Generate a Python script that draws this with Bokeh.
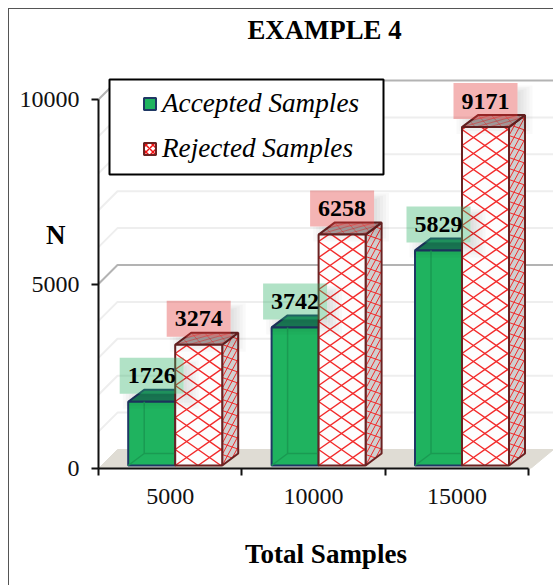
from bokeh.embed import file_html
from bokeh.resources import INLINE
from bokeh.plotting import figure
from bokeh.models import (ColumnDataSource, FixedTicker, Label, Legend,
                          LegendItem, Range1d)
from bokeh.core.properties import value

# Chart data
categories = ["5000", "10000", "15000"]
accepted = [1726, 3742, 5829]
rejected = [3274, 6258, 9171]
y_ticks = [0, 5000, 10000]
wall_steps = [1000, 2000, 3000, 4000, 5000, 6000, 7000, 8000, 9000, 10000]

SERIF = "Liberation Serif"
FRAME_L, FRAME_R, FRAME_T, FRAME_B = 98, 553, 0, 468
PX_X = 143.4          # pixels per category
PX_Y = 0.0369         # pixels per unit of N

def ux(px):
    return px / PX_X

def uy(px):
    return px / PX_Y

x_start = 0.5
x_range = Range1d(x_start, x_start + ux(FRAME_R - FRAME_L))
y_range = Range1d(0, uy(FRAME_B - FRAME_T))

# The outer chart border is open on the right and at the bottom
border_css = """
:host::after {
  content: ""; position: absolute; left: 8px; top: 8px; right: 0; bottom: 0;
  border-left: 1.5px solid #555555; border-top: 1.5px solid #555555;
  pointer-events: none;
}
"""

p = figure(width=553, height=585, x_range=x_range, y_range=y_range,
           output_backend="svg", toolbar_location=None,
           min_border_left=FRAME_L, min_border_right=0, min_border_bottom=585 - FRAME_B,
           min_border_top=0, tools="", title=None)
p.stylesheets = [border_css]
p.grid.visible = False
p.outline_line_color = None
p.background_fill_color = "white"
p.border_fill_color = "white"

# Axes
xa = p.xaxis[0]
xa.ticker = FixedTicker(ticks=[1, 2, 3], minor_ticks=[0.5, 1.5, 2.5, 3.5])
xa.major_label_overrides = {i + 1: c for i, c in enumerate(categories)}
xa.major_tick_line_color = None
xa.major_tick_in = 0
xa.major_tick_out = 0
xa.minor_tick_in = 0
xa.minor_tick_out = 7
xa.minor_tick_line_color = "#111111"
xa.minor_tick_line_width = 2
xa.axis_line_color = "#111111"
xa.axis_line_width = 2
xa.bounds = (0.5, 3.5)
xa.major_label_text_font = SERIF
xa.major_label_text_font_size = "24px"
xa.major_label_text_color = "#111111"
xa.major_label_standoff = 13
xa.axis_label = "Total Samples"
xa.axis_label_text_font = SERIF
xa.axis_label_text_font_size = "27px"
xa.axis_label_text_font_style = "bold"
xa.axis_label_text_color = "#000000"
xa.axis_label_standoff = 32

ya = p.yaxis[0]
ya.ticker = FixedTicker(ticks=y_ticks)
ya.minor_tick_line_color = None
ya.major_tick_in = 0
ya.major_tick_out = 7
ya.major_tick_line_color = "#111111"
ya.major_tick_line_width = 2
ya.axis_line_color = "#111111"
ya.axis_line_width = 2
ya.bounds = (0, 10000)
ya.major_label_text_font = SERIF
ya.major_label_text_font_size = "24px"
ya.major_label_text_color = "#111111"
ya.major_label_standoff = 12
ya.formatter.use_scientific = False
ya.axis_label = "N"
ya.axis_label_orientation = "horizontal"
ya.axis_label_text_font = SERIF
ya.axis_label_text_font_size = "27px"
ya.axis_label_text_font_style = "bold"
ya.axis_label_text_color = "#000000"
ya.axis_label_standoff = -49

# Projection depths of the pseudo 3D scene
WALL_DX, WALL_DY = ux(19), uy(19)
BAR_DX, BAR_DY = ux(16), uy(12)
BAR_W = ux(47)
BAR_SHIFT = ux(5)
BASE = uy(3)

# Floor and the gridlines on the back and side walls
x_end = x_range.end
p.patch([0.5, 3.5 + ux(2), x_end, 0.5 + WALL_DX], [0, 0, WALL_DY, WALL_DY],
        fill_color="#dfdcd4", line_color="#dfdcd4")
for step in wall_steps:
    major = step % 5000 == 0
    p.line([0.5, 0.5 + WALL_DX, x_end], [step, step + WALL_DY, step + WALL_DY],
           line_color="#b3b3b3" if major else "#eeeeee", line_width=2)


def lattice(origin, eu, ev, U, V, slope, period):
    """Crossed hatch lines for a face spanned by pixel vectors eu and ev."""
    xs, ys = [], []
    for s in (slope, -slope):
        k = -int((U * slope + V) / period) - 2
        top = int((U * slope + V) / period) + 2
        for n in range(k, top + 1):
            c = n * period
            u0 = max(0.0, min((0 - c) / s, (V - c) / s))
            u1 = min(float(U), max((0 - c) / s, (V - c) / s))
            if u1 <= u0:
                continue
            seg = [(u0, s * u0 + c), (u1, s * u1 + c)]
            xs.append([origin[0] + ux(a * eu[0] + b * ev[0]) for a, b in seg])
            ys.append([origin[1] + uy(a * eu[1] + b * ev[1]) for a, b in seg])
    return xs, ys


HATCH = "#f22a2a"
BAR_EDGE_G = "#1f3864"
BAR_EDGE_R = "#6b2222"
centers = [i + 1 + BAR_SHIFT for i in range(len(categories))]

# Accepted bars: top face, front face, and the back edges seen through the front
acc_top_x = [[c - BAR_W, c, c + BAR_DX, c - BAR_W + BAR_DX] for c in centers]
acc_top_y = [[BASE + v, BASE + v, BASE + v + BAR_DY, BASE + v + BAR_DY] for v in accepted]
p.patches(acc_top_x, acc_top_y, fill_color="#1c7f5a", line_color=BAR_EDGE_G, line_width=2)
acc_src = ColumnDataSource(dict(left=[c - BAR_W for c in centers], right=centers,
                                bottom=[BASE] * 3, top=[BASE + v for v in accepted]))
acc_r = p.quad(left="left", right="right", bottom="bottom", top="top", source=acc_src,
               fill_color="#1fb35f", line_color=BAR_EDGE_G, line_width=2)
for c, v in zip(centers, accepted):
    bx, by = c - BAR_W + BAR_DX, BASE + BAR_DY
    p.line([c - BAR_W, bx, bx], [BASE, by, BASE + v], line_color="#1a9a52", line_width=1.5)
    p.line([bx, c], [by, by], line_color="#1a9a52", line_width=1.5)

# Rejected bars: side and top faces, then the white front, each with its lattice
for c, v in zip(centers, rejected):
    rx = c + BAR_W
    top = BASE + v
    p.patch([rx, rx + BAR_DX, rx + BAR_DX, rx], [BASE, BASE + BAR_DY, top + BAR_DY, top],
            fill_color="#cfcfcf", line_color=None)
    xs, ys = lattice((rx, BASE), (1, 0.75), (0, 1), 16, v * PX_Y, 1.1, 11)
    p.multi_line(xs, ys, line_color=HATCH, line_width=1)
    p.patch([rx, rx + BAR_DX, rx + BAR_DX, rx], [BASE, BASE + BAR_DY, top + BAR_DY, top],
            fill_color=None, line_color=BAR_EDGE_R, line_width=2)
    p.patch([c, rx, rx + BAR_DX, c + BAR_DX], [top, top, top + BAR_DY, top + BAR_DY],
            fill_color="#b3a6a6", line_color=None)
    xs, ys = lattice((c, top), (1, 0), (16 / 12, 1), 47, 12, 0.45, 6)
    p.multi_line(xs, ys, line_color=HATCH, line_width=0.7, line_alpha=0.7)
    p.patch([c, rx, rx + BAR_DX, c + BAR_DX], [top, top, top + BAR_DY, top + BAR_DY],
            fill_color=None, line_color=BAR_EDGE_R, line_width=2)

rej_src = ColumnDataSource(dict(left=centers, right=[c + BAR_W for c in centers],
                                bottom=[BASE] * 3, top=[BASE + v for v in rejected]))
p.quad(left="left", right="right", bottom="bottom", top="top", source=rej_src,
       fill_color="#fdfdfd", line_color=None)
for c, v in zip(centers, rejected):
    xs, ys = lattice((c, BASE), (1, 0), (0, 1), 47, v * PX_Y, 0.7, 16)
    p.multi_line(xs, ys, line_color=HATCH, line_width=1.4)
p.quad(left="left", right="right", bottom="bottom", top="top", source=rej_src,
       fill_color=None, line_color=BAR_EDGE_R, line_width=2)

# Value labels on plates with a soft shadow falling to the right and below
LABEL_W, LABEL_H, LABEL_GAP = ux(64), uy(36), uy(8)
plates = [(centers[i] - BAR_W / 2, accepted[i], "#28b060") for i in range(3)] + \
         [(centers[i] + BAR_W / 2, rejected[i], "#e03030") for i in range(3)]
for cx, v, color in plates:
    y0 = BASE + v + LABEL_GAP
    plate_r = cx + LABEL_W / 2
    for grow in (3, 6, 9, 12, 15):
        p.quad(left=[plate_r], right=[plate_r + ux(grow)],
               bottom=[y0 - uy(grow)], top=[y0 + LABEL_H - uy(10 - grow / 2)],
               fill_color="#000000", fill_alpha=0.022, line_color=None)
        p.quad(left=[cx - LABEL_W / 2 + ux(18 - grow)], right=[plate_r],
               bottom=[y0 - uy(grow)], top=[y0],
               fill_color="#000000", fill_alpha=0.022, line_color=None)
for cx, v, color in plates:
    y0 = BASE + v + LABEL_GAP
    p.quad(left=[cx - LABEL_W / 2], right=[cx + LABEL_W / 2], bottom=[y0], top=[y0 + LABEL_H],
           fill_color=color, fill_alpha=0.36, line_color=None)
lab_src = ColumnDataSource(dict(x=[a for a, _, _ in plates],
                                y=[BASE + v + LABEL_GAP + LABEL_H / 2 for _, v, _ in plates],
                                text=[str(v) for _, v, _ in plates]))
p.text(x="x", y="y", text="text", source=lab_src, text_font=value(SERIF),
       text_font_size="24px", text_font_style="bold", text_color="#000000",
       text_align="center", text_baseline="middle")

# Legend frame with the legend drawn over it
p.quad(left=[x_start + ux(109 - FRAME_L)], right=[x_start + ux(383 - FRAME_L)],
       bottom=[uy(FRAME_B - 174)], top=[uy(FRAME_B - 79)],
       fill_color="white", line_color="#000000", line_width=2)
key_src = ColumnDataSource(dict(left=[float("nan")], right=[float("nan")],
                                bottom=[float("nan")], top=[float("nan")]))
rej_key = p.quad(left="left", right="right", bottom="bottom", top="top", source=key_src,
                 fill_color="white", line_color=BAR_EDGE_R, line_width=2,
                 hatch_pattern="diagonal_cross", hatch_color="#f01010", hatch_scale=7,
                 hatch_weight=1.5)
legend = Legend(items=[LegendItem(label="Accepted Samples", renderers=[acc_r]),
                       LegendItem(label="Rejected Samples", renderers=[rej_key])],
                location=(142 - FRAME_L, FRAME_B - 174 + 10), padding=0, margin=0, spacing=14,
                background_fill_alpha=0, border_line_color=None, glyph_width=15,
                glyph_height=15, label_standoff=5, label_text_font=SERIF,
                label_text_font_size="27.2px", label_text_font_style="italic",
                label_text_color="#000000", label_height=31)
p.add_layout(legend, "center")

# Chart heading, set inside the top of the plot frame
p.add_layout(Label(x=324 - FRAME_L, y=FRAME_B - 29, x_units="screen", y_units="screen",
                   text="EXAMPLE 4", text_font=SERIF, text_font_size="26.8px",
                   text_font_style="bold", text_color="#000000", text_align="center",
                   text_baseline="middle"))

open("out.html", "w").write(file_html(p, INLINE))
